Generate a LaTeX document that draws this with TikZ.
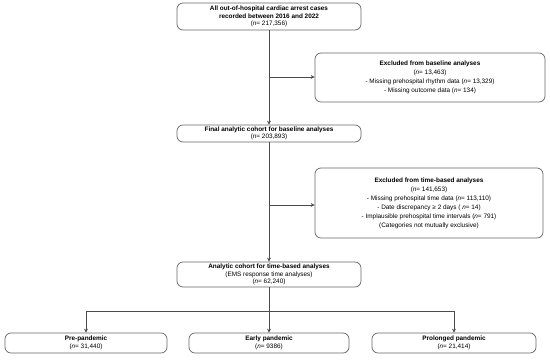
\documentclass[tikz,border=0pt]{standalone}
\usepackage{fontspec}
\setmainfont{Liberation Sans}
\usetikzlibrary{arrows.meta}
\newcommand{\nn}[1]{(\textit{n}= #1)}
\begin{document}
\begin{tikzpicture}[x=1pt,y=-1pt,
box/.style={draw=black!60, line width=0.7pt, rounded corners=6pt, align=center, inner sep=0pt, font=\fontsize{6.4}{7.6}\selectfont},
exclbox/.style={box, font=\fontsize{6.4}{9}\selectfont},
arr/.style={draw=black!70, line width=0.7pt, -{Stealth[length=4pt,width=4pt]}},
ln/.style={draw=black!70, line width=0.7pt}
]
\useasboundingbox (0,0) rectangle (550,362);
\node[box, minimum width=184pt, minimum height=27pt] (allcases) at (269,16.5) {\textbf{All out-of-hospital cardiac arrest cases}\\\textbf{recorded between 2016 and 2022}\\\nn{217,356}};
\node[exclbox, minimum width=230pt, minimum height=49pt] (exclbase) at (430,77.5) {\textbf{Excluded from baseline analyses}\\\nn{13,463}\\- Missing prehospital rhythm data \nn{13,329}\\- Missing outcome data \nn{134}};
\node[box, minimum width=184pt, minimum height=17pt] (baseline) at (269,133.5) {\textbf{Final analytic cohort for baseline analyses}\\\nn{203,893}};
\node[exclbox, minimum width=228pt, minimum height=70pt] (excltime) at (429,203) {\textbf{Excluded from time-based analyses}\\\nn{141,653}\\- Missing prehospital time data \nn{113,110}\\- Date discrepancy ≥ 2 days ( \textit{n}= 14)\\- Implausible prehospital time intervals \nn{791}\\(Categories not mutually exclusive)};
\node[box, minimum width=184pt, minimum height=25pt] (timecohort) at (269,274.5) {\textbf{Analytic cohort for time-based analyses}\\(EMS response time analyses)\\\nn{62,240}};
\node[box, minimum width=162pt, minimum height=20pt] (pre) at (86,343) {\textbf{Pre-pandemic}\\\nn{31,440}};
\node[box, minimum width=160pt, minimum height=20pt] (early) at (269,343) {\textbf{Early pandemic}\\\nn{9386}};
\node[box, minimum width=164pt, minimum height=20pt] (prolonged) at (454,343) {\textbf{Prolonged pandemic}\\\nn{21,414}};
\coordinate (split1) at (269,77);
\coordinate (split2) at (269,205);
\coordinate (split3) at (269,311);
\draw[arr] (allcases) -- (baseline);
\draw[arr] (split1) -- (exclbase.west |- split1);
\draw[arr] (baseline) -- (timecohort);
\draw[arr] (split2) -- (excltime.west |- split2);
\draw[arr] (timecohort) -- (early);
\draw[ln] (split3 -| pre) -- (split3 -| prolonged);
\draw[arr] (split3 -| pre) -- (pre);
\draw[arr] (split3 -| prolonged) -- (prolonged);
\end{tikzpicture}
\end{document}
